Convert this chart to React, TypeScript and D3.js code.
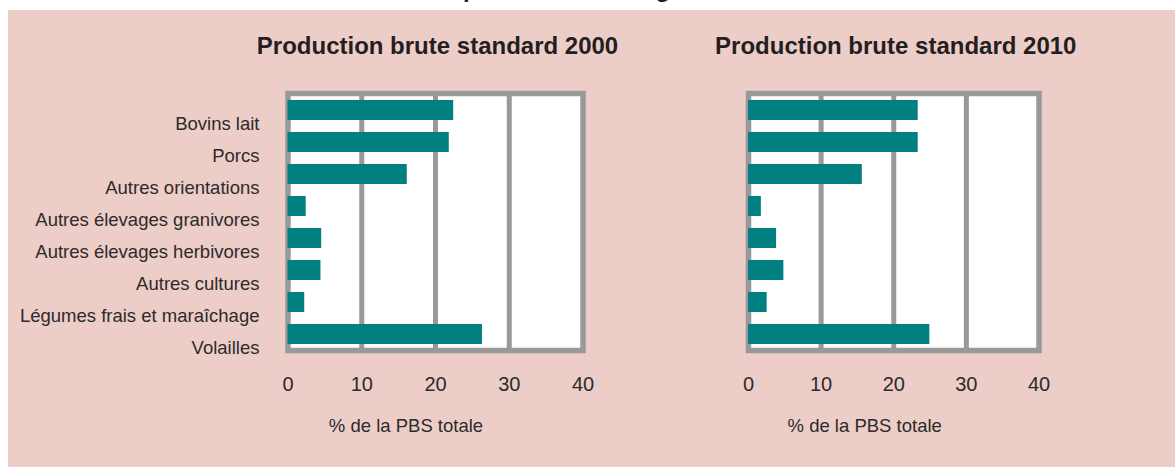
import React from "react";
import * as d3 from "d3";

const categories = [
  "Bovins lait",
  "Porcs",
  "Autres orientations",
  "Autres élevages granivores",
  "Autres élevages herbivores",
  "Autres cultures",
  "Légumes frais et maraîchage",
  "Volailles",
];
const pbs2000 = [22.4, 21.8, 16.1, 2.4, 4.5, 4.4, 2.2, 26.3];
const pbs2010 = [23.3, 23.3, 15.6, 1.7, 3.8, 4.8, 2.5, 24.9];
const xTicks = [0, 10, 20, 30, 40];
const gridValues = [10, 20, 30];
const panelTitles = ["Production brute standard 2000", "Production brute standard 2010"];
const axisTitle = "% de la PBS totale";
const mainTitleA = "Poids des orientations dans la";
const mainTitleB = "production de l'agriculture";

const W = 1175;
const H = 467;
const FONT = "'Liberation Sans', Arial, Helvetica, sans-serif";
const PINK = "#EDCDC8";
const GRAY = "#999999";
const TEAL = "#008080";

const panels = [
  { values: pbs2000, title: panelTitles[0], x0: 288, x1: 583, showLabels: true },
  { values: pbs2010, title: panelTitles[1], x0: 748.5, x1: 1039, showLabels: false },
];

const frameTop = 93.5;
const frameBottom = 350.5;

const y = d3
  .scaleBand<string>()
  .domain(categories)
  .range([94, 350])
  .paddingInner(0.375)
  .paddingOuter(0.1875);

function Panel({ p }: { p: (typeof panels)[number] }) {
  const x = d3.scaleLinear().domain([0, 40]).range([p.x0, p.x1]);
  const cx = (p.x0 + p.x1) / 2;
  return (
    <g>
      <rect x={p.x0} y={frameTop} width={p.x1 - p.x0} height={frameBottom - frameTop} fill="#fff" />
      {gridValues.map((v) => (
        <line key={v} x1={x(v)} x2={x(v)} y1={frameTop} y2={frameBottom} stroke={GRAY} strokeWidth={5} />
      ))}
      <rect
        x={p.x0}
        y={frameTop}
        width={p.x1 - p.x0}
        height={frameBottom - frameTop}
        fill="none"
        stroke={GRAY}
        strokeWidth={5.5}
      />
      {categories.map((c, i) => (
        <rect
          key={c}
          x={x(0) - 0.5}
          y={y(c)!}
          width={x(p.values[i]) - x(0) + 0.5}
          height={y.bandwidth()}
          fill={TEAL}
        />
      ))}
      {p.showLabels &&
        categories.map((c) => (
          <text
            key={c}
            x={259.5}
            y={y(c)! + y.bandwidth() / 2 + 19.5}
            textAnchor="end"
            fontSize={18.5}
            fill="#2b2b2b"
          >
            {c}
          </text>
        ))}
      {xTicks.map((t) => (
        <text key={t} x={x(t)} y={391} textAnchor="middle" fontSize={20} fill="#2b2b2b">
          {t}
        </text>
      ))}
      <text x={p.x0 + 0.4 * (p.x1 - p.x0)} y={431.5} textAnchor="middle" fontSize={18.5} fill="#2b2b2b">
        {axisTitle}
      </text>
      <text x={cx + 2} y={54} textAnchor="middle" fontSize={24} fontWeight="bold" fill="#231f20">
        {p.title}
      </text>
    </g>
  );
}

export default function App() {
  return (
    <svg
      width={W}
      height={H}
      style={{ position: "absolute", left: 0, top: 0, fontFamily: FONT }}
    >
      <rect x={0} y={0} width={W} height={H} fill="#fff" />
      <text x={456} y={-3} textAnchor="end" fontSize={24} fontWeight="bold" fill="#231f20">
        {mainTitleA}
      </text>
      <text x={463} y={-3} textAnchor="start" fontSize={24} fontWeight="bold" fill="#231f20">
        {mainTitleB}
      </text>
      <rect x={8} y={10} width={W - 8} height={H - 10} fill={PINK} />
      {panels.map((p, i) => (
        <Panel key={i} p={p} />
      ))}
    </svg>
  );
}
